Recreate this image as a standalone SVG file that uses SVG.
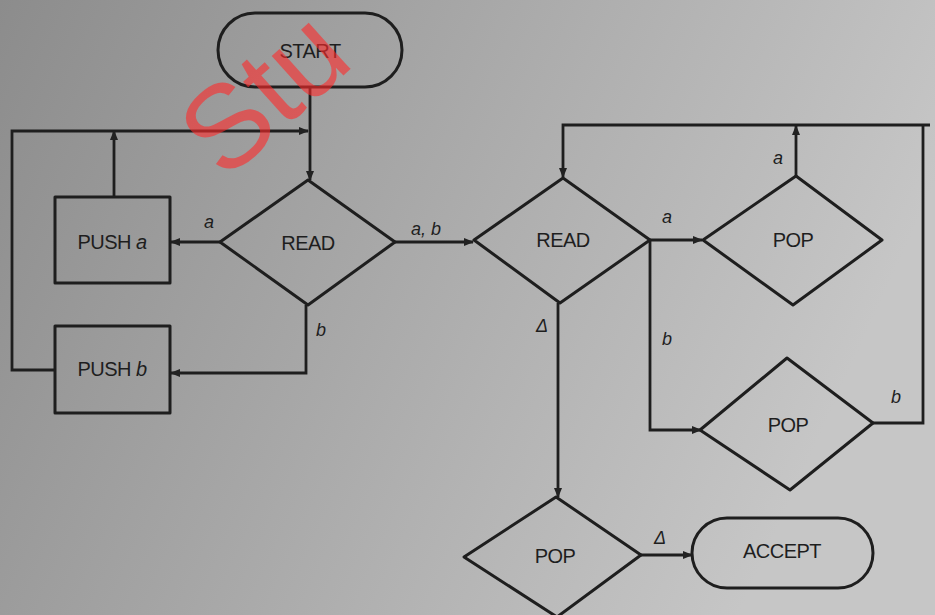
<svg xmlns="http://www.w3.org/2000/svg" width="935" height="615" viewBox="0 0 935 615">
<defs>
<linearGradient id="bg" x1="0" y1="0" x2="1" y2="0.3">
<stop offset="0" stop-color="#8c8c8c"/>
<stop offset="0.5" stop-color="#a9a9a9"/>
<stop offset="1" stop-color="#c6c6c6"/>
</linearGradient>
<marker id="ah" viewBox="0 0 10 10" refX="9" refY="5" markerWidth="10" markerHeight="10" markerUnits="userSpaceOnUse" orient="auto">
<path d="M0,1 L10,5 L0,9 Z" fill="#222"/>
</marker>
</defs>
<style>
.shape{fill:none;stroke:#1e1e1e;stroke-width:3;stroke-linejoin:round}
.conn{fill:none;stroke:#1e1e1e;stroke-width:2.8}
.lbl{font-family:"Liberation Sans",Arial,sans-serif;font-size:20px;fill:#1e1e1e;text-anchor:middle;letter-spacing:-0.5px}
.lab{font-family:"Liberation Sans",Arial,sans-serif;font-size:18px;font-style:italic;fill:#1e1e1e;text-anchor:middle}
.wm{font-family:"Liberation Sans",Arial,sans-serif;font-size:118px;fill:#ff2a2a;fill-opacity:0.6}
</style>
<rect width="935" height="615" fill="url(#bg)"/>

<g id="connectors">
<path class="conn" d="M310,87 V180" marker-end="url(#ah)"/>
<path class="conn" d="M55,370 H12 V131 H308" marker-end="url(#ah)"/>
<path class="conn" d="M114,197 V131" marker-end="url(#ah)"/>
<path class="conn" d="M220,242 H171" marker-end="url(#ah)"/>
<path class="conn" d="M306,305 V373 H171" marker-end="url(#ah)"/>
<path class="conn" d="M395,242 H473" marker-end="url(#ah)"/>
<path class="conn" d="M930,125 H563 V177" marker-end="url(#ah)"/>
<path class="conn" d="M796,176 V126" marker-end="url(#ah)"/>
<path class="conn" d="M873,423 H923 V125"/>
<path class="conn" d="M650,240 H702" marker-end="url(#ah)"/>
<path class="conn" d="M650,240 V430 H701" marker-end="url(#ah)"/>
<path class="conn" d="M558,303 V497" marker-end="url(#ah)"/>
<path class="conn" d="M641,555 H692" marker-end="url(#ah)"/>
<text class="lab" x="209" y="228">a</text>
<text class="lab" x="321" y="336">b</text>
<text class="lab" x="426" y="235">a, b</text>
<text class="lab" x="667" y="223">a</text>
<text class="lab" x="667" y="345">b</text>
<text class="lab" x="778" y="164">a</text>
<text class="lab" x="896" y="403">b</text>
<text class="lab" x="542" y="332">Δ</text>
<text class="lab" x="660" y="544">Δ</text>
</g>

<g id="start">
<rect class="shape" x="218" y="13" width="184" height="74" rx="37"/>
<text class="lbl" x="310" y="58">START</text>
</g>
<g id="read1">
<polygon class="shape" points="308,180 395,242 308,305 220,242"/>
<text class="lbl" x="308" y="250">READ</text>
</g>
<g id="push-a">
<rect class="shape" x="55" y="197" width="115" height="86"/>
<text class="lbl" x="112" y="249">PUSH <tspan font-style="italic">a</tspan></text>
</g>
<g id="push-b">
<rect class="shape" x="55" y="326" width="115" height="87"/>
<text class="lbl" x="112" y="376">PUSH <tspan font-style="italic">b</tspan></text>
</g>
<g id="read2">
<polygon class="shape" points="563,178 650,240 560,303 474,240"/>
<text class="lbl" x="563" y="247">READ</text>
</g>
<g id="pop1">
<polygon class="shape" points="796,176 882,240 793,305 703,240"/>
<text class="lbl" x="793" y="247">POP</text>
</g>
<g id="pop2">
<polygon class="shape" points="787,358 873,423 790,490 700,430"/>
<text class="lbl" x="788" y="432">POP</text>
</g>
<g id="pop3">
<polygon class="shape" points="556,497 641,555 557,617 464,557"/>
<text class="lbl" x="555" y="563">POP</text>
</g>
<g id="accept">
<rect class="shape" x="692" y="518" width="181" height="70" rx="35"/>
<text class="lbl" x="782" y="558">ACCEPT</text>
</g>

<text class="wm" x="225" y="182" transform="rotate(-42 225 182)">Stu</text>
</svg>
